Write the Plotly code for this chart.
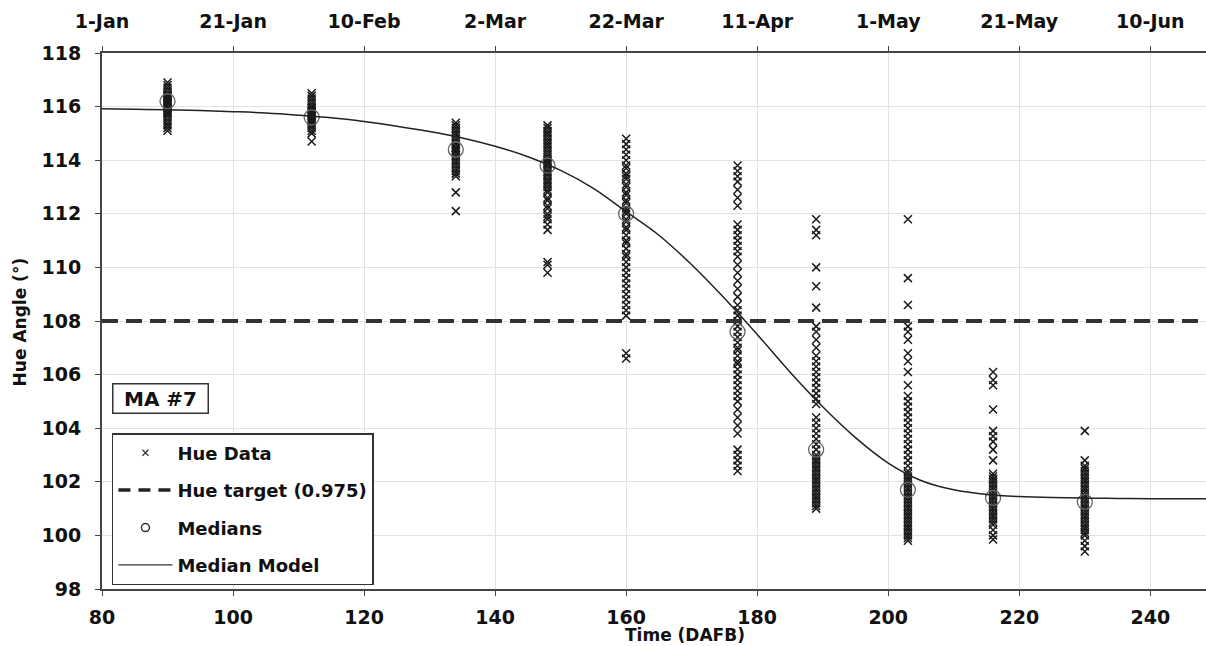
import plotly.graph_objects as go

# ---------------- data ----------------
days = [90, 112, 134, 148, 160, 177, 189, 203, 216, 230]

hue_090 = [115.1, 115.2, 115.3, 115.4, 115.5, 115.6, 115.7, 115.75, 115.8, 115.85, 115.9, 115.95,
           116.0, 116.05, 116.1, 116.15, 116.2, 116.25, 116.3, 116.35, 116.4, 116.45, 116.5,
           116.6, 116.7, 116.8, 116.9]
hue_112 = [114.7, 115.0, 115.1, 115.2, 115.3, 115.4, 115.45, 115.5, 115.55, 115.6, 115.65, 115.7,
           115.75, 115.8, 115.85, 115.9, 115.95, 116.0, 116.1, 116.2, 116.3, 116.4, 116.5]
hue_134 = [112.1, 112.8, 113.4, 113.5, 113.6, 113.7, 113.8, 113.9, 114.0, 114.1, 114.2, 114.3,
           114.35, 114.4, 114.45, 114.5, 114.6, 114.7, 114.8, 114.9, 115.0, 115.1, 115.2, 115.3, 115.4]
hue_148 = [109.8, 110.1, 110.2, 111.4, 111.6, 111.8, 111.9, 112.0, 112.2, 112.3, 112.5, 112.6,
           112.8, 112.9, 113.0, 113.1, 113.2, 113.3, 113.4, 113.5, 113.6, 113.7, 113.8, 113.85,
           113.9, 113.95, 114.0, 114.1, 114.2, 114.3, 114.4, 114.5, 114.6, 114.7, 114.8, 114.9,
           115.0, 115.1, 115.2, 115.3]
hue_160 = [106.6, 106.8, 108.2, 108.4, 108.6, 108.8, 109.0, 109.2, 109.4, 109.6, 109.8, 110.0,
           110.2, 110.4, 110.5, 110.7, 110.9, 111.0, 111.2, 111.4, 111.5, 111.7, 111.8, 112.0,
           112.1, 112.2, 112.4, 112.5, 112.7, 112.8, 113.0, 113.1, 113.3, 113.4, 113.5, 113.7,
           113.8, 114.0, 114.2, 114.4, 114.6, 114.8]
hue_177 = [102.4, 102.6, 102.8, 103.0, 103.2, 103.8, 104.1, 104.4, 104.7, 105.0, 105.2, 105.4,
           105.6, 105.8, 106.0, 106.2, 106.4, 106.5, 106.7, 106.9, 107.0, 107.2, 107.4, 107.6,
           107.8, 108.0, 108.2, 108.4, 108.6, 108.9, 109.2, 109.5, 109.8, 110.1, 110.4, 110.6,
           110.8, 111.0, 111.2, 111.4, 111.6, 112.3, 112.6, 112.9, 113.2, 113.4, 113.6, 113.8]
hue_189 = [101.0, 101.1, 101.2, 101.3, 101.4, 101.5, 101.6, 101.7, 101.8, 101.9, 102.0, 102.1,
           102.2, 102.3, 102.4, 102.5, 102.6, 102.7, 102.8, 102.9, 103.0, 103.2, 103.4, 103.6,
           103.8, 104.0, 104.2, 104.4, 104.9, 105.1, 105.3, 105.5, 105.7, 105.9, 106.1, 106.3,
           106.5, 106.7, 107.0, 107.3, 107.6, 107.8, 108.5, 109.3, 110.0, 111.2, 111.4, 111.8]
hue_203 = [99.8, 99.9, 100.0, 100.1, 100.2, 100.3, 100.4, 100.5, 100.6, 100.7, 100.8, 100.9,
           101.0, 101.1, 101.2, 101.3, 101.4, 101.5, 101.6, 101.7, 101.8, 101.9, 102.0, 102.1,
           102.2, 102.3, 102.4, 102.6, 102.8, 103.0, 103.2, 103.4, 103.6, 103.8, 104.0, 104.2,
           104.4, 104.6, 104.8, 105.0, 105.2, 105.6, 106.1, 106.5, 106.8, 107.3, 107.6, 107.8,
           108.6, 109.6, 111.8]
hue_216 = [99.85, 100.0, 100.2, 100.4, 100.5, 100.6, 100.7, 100.8, 100.9, 101.0, 101.1, 101.2,
           101.3, 101.4, 101.5, 101.6, 101.7, 101.8, 101.9, 102.0, 102.1, 102.2, 102.3, 102.8,
           103.2, 103.5, 103.7, 103.9, 104.7, 105.6, 105.8, 106.1]
hue_230 = [99.4, 99.6, 99.8, 100.0, 100.1, 100.2, 100.3, 100.4, 100.5, 100.6, 100.7, 100.8,
           100.9, 101.0, 101.1, 101.2, 101.3, 101.4, 101.5, 101.6, 101.7, 101.8, 101.9, 102.0,
           102.1, 102.2, 102.3, 102.4, 102.5, 102.6, 102.8, 103.9]

hue_columns = [hue_090, hue_112, hue_134, hue_148, hue_160,
               hue_177, hue_189, hue_203, hue_216, hue_230]

medians = [116.2, 115.6, 114.4, 113.8, 112.0, 107.6, 103.2, 101.7, 101.4, 101.25]

model_days = [80, 85, 90, 95, 100, 105, 110, 115, 120, 125, 130, 135, 140, 145, 150, 155,
              160, 165, 170, 175, 180, 185, 190, 195, 200, 205, 210, 215, 220, 225, 230,
              235, 240, 245, 250]
model_hue = [115.92, 115.90, 115.88, 115.85, 115.81, 115.76, 115.68, 115.58, 115.44, 115.27,
             115.07, 114.83, 114.52, 114.13, 113.62, 112.95, 112.08, 111.2, 110.1, 108.85,
             107.5, 106.1, 104.8, 103.65, 102.7, 102.05, 101.7, 101.53, 101.45, 101.41,
             101.39, 101.38, 101.37, 101.37, 101.37]

hue_target = 108
target_days = [80, 250]

x_ticks = [80, 100, 120, 140, 160, 180, 200, 220, 240]
date_labels = ["1-Jan", "21-Jan", "10-Feb", "2-Mar", "22-Mar", "11-Apr", "1-May", "21-May", "10-Jun"]
y_ticks = [98, 100, 102, 104, 106, 108, 110, 112, 114, 116, 118]

# ---------------- figure ----------------
FONT = "DejaVu Sans"
INK = "#1a1a1a"
data_x = []
data_y = []
for d, col in zip(days, hue_columns):
    data_x += [d] * len(col)
    data_y += col

fig = go.Figure()

# real marks (legend entries supplied by proxies below)
fig.add_trace(go.Scatter(
    x=data_x, y=data_y, mode="markers", name="Hue Data", showlegend=False,
    marker=dict(symbol="x-thin", size=8, color=INK, line=dict(color=INK, width=1.5)),
))
fig.add_trace(go.Scatter(
    x=target_days, y=[hue_target] * len(target_days), mode="lines",
    name="Hue target (0.975)", showlegend=False,
    line=dict(color="#333", width=4, dash="16px,8px"),
))
fig.add_trace(go.Scatter(
    x=days, y=medians, mode="markers", name="Medians", showlegend=False,
    marker=dict(symbol="circle-open", size=15, color="#666", line=dict(color="#666", width=1.3)),
))
fig.add_trace(go.Scatter(
    x=model_days, y=model_hue, mode="lines", name="Median Model", showlegend=False,
    line=dict(color="#222", width=1.5, shape="spline"),
))

# legend proxies (no data points) with small legend symbols like the reference
fig.add_trace(go.Scatter(x=[None], y=[None], mode="markers", name="Hue Data", legendgroup="a",
                         marker=dict(symbol="x-thin", size=6, color="#333",
                                     line=dict(color="#333", width=1.2))))
fig.add_trace(go.Scatter(x=[None], y=[None], mode="lines", name="Hue target (0.975)",
                         legendgroup="b", line=dict(color="#222", width=3.5, dash="12px,8px")))
fig.add_trace(go.Scatter(x=[None], y=[None], mode="markers", name="Medians", legendgroup="c",
                         marker=dict(symbol="circle-open", size=8, color="#333",
                                     line=dict(color="#333", width=1.5))))
fig.add_trace(go.Scatter(x=[None], y=[None], mode="lines", name="Median Model", legendgroup="d",
                         line=dict(color="#333", width=1.3)))

axis_font = dict(family=FONT, size=19, color="#111", weight="bold")

fig.update_layout(
    width=1206, height=646,
    margin=dict(l=102, r=0, t=53, b=57, autoexpand=False),
    paper_bgcolor="white", plot_bgcolor="white",
    font=dict(family=FONT, color="#111"),
    showlegend=True,
    legend=dict(
        x=0.009, y=0.291, xanchor="left", yanchor="top",
        bgcolor="white", bordercolor="#333", borderwidth=1.5,
        font=dict(family=FONT, size=18, color="#111", weight="bold"),
        traceorder="grouped", tracegroupgap=11, itemsizing="trace",
        itemwidth=54,
    ),
    xaxis=dict(
        range=[80, 248.5], tickvals=x_ticks, ticktext=[str(v) for v in x_ticks],
        showgrid=True, gridcolor="#e2e2e2", gridwidth=1, automargin=False,
        showline=True, linecolor="#444", linewidth=2,
        ticks="outside", ticklen=5, tickcolor="#444", tickwidth=1,
        tickfont=axis_font, ticklabelstandoff=5, zeroline=False,
    ),
    xaxis2=dict(
        overlaying="x", side="top", matches="x", anchor="y", automargin=False,
        tickvals=x_ticks, ticktext=date_labels,
        showgrid=False, showline=True, linecolor="#444", linewidth=2,
        ticks="outside", ticklen=5, tickcolor="#444", tickwidth=1,
        tickfont=axis_font, ticklabelstandoff=10, zeroline=False,
    ),
    yaxis=dict(
        range=[98, 118], tickvals=y_ticks, automargin=False,
        showgrid=True, gridcolor="#e2e2e2", gridwidth=1,
        showline=True, linecolor="#444", linewidth=2,
        ticks="outside", ticklen=5, tickcolor="#444", tickwidth=1,
        tickfont=axis_font, ticklabelstandoff=10, zeroline=False,
    ),
    annotations=[
        dict(text="Time (DAFB)", xref="paper", yref="paper", x=0.528, y=-0.086,
             xanchor="center", yanchor="middle", showarrow=False,
             font=dict(family=FONT, size=17, color="#111", weight="bold")),
        dict(text="Hue Angle (°)", xref="paper", yref="paper", x=-0.074, y=0.498,
             xanchor="center", yanchor="middle", textangle=-90, showarrow=False,
             font=dict(family=FONT, size=17, color="#111", weight="bold")),
        dict(text="MA #7", xref="paper", yref="paper", x=0.009, y=0.356,
             xanchor="left", yanchor="middle", showarrow=False, width=88, height=22,
             align="center", valign="middle",
             bgcolor="white", bordercolor="#333", borderwidth=1.5, borderpad=3,
             font=dict(family=FONT, size=20, color="#111", weight="bold")),
    ],
)

# invisible anchor so the top date axis is drawn
fig.add_trace(go.Scatter(x=[80], y=[98], xaxis="x2", mode="markers",
                         marker=dict(opacity=0), showlegend=False, hoverinfo="skip"))

# remove the default page margin so the 1206x646 figure fills the window exactly
fig.write_html("out.html", config={"displayModeBar": False},
               post_script="document.body.style.margin='0px';document.body.style.overflow='hidden';")
